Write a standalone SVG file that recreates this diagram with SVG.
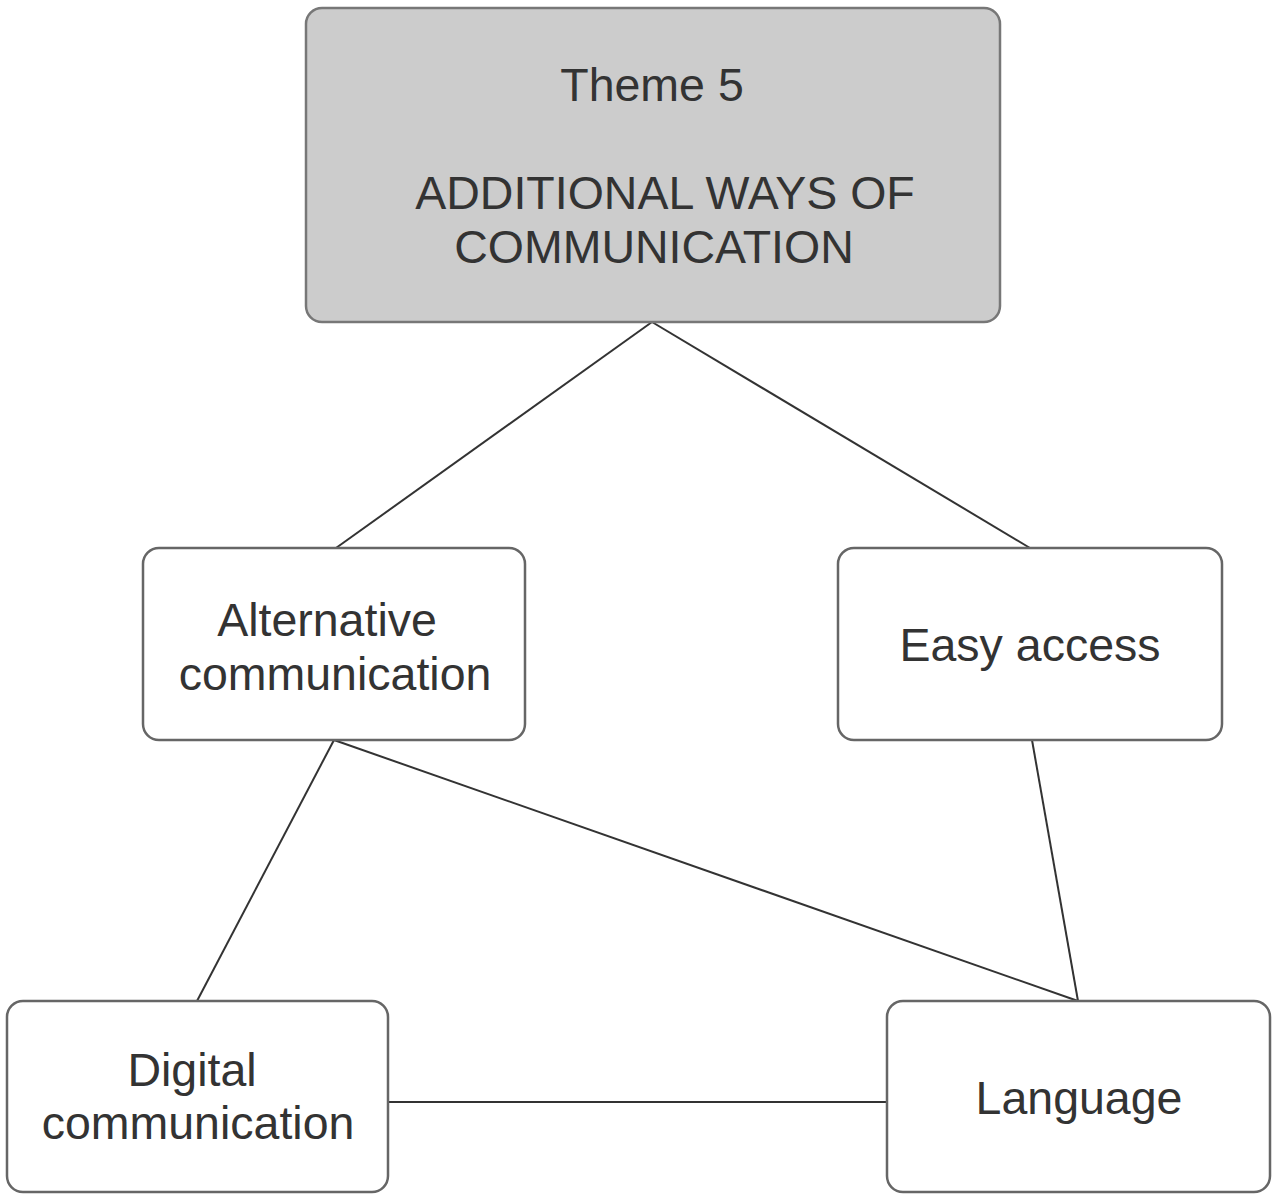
<svg xmlns="http://www.w3.org/2000/svg" width="1280" height="1199" viewBox="0 0 1280 1199">
<style>
.box{fill:#ffffff;stroke:#666666;stroke-width:2.5}
.theme{fill:#cccccc;stroke:#777777;stroke-width:2.5}
.lbl{font-family:"Liberation Sans",Arial,sans-serif;font-size:46.5px;fill:#333333;text-anchor:middle}
.conn{stroke:#333333;stroke-width:2;fill:none}
</style>
<rect width="1280" height="1199" fill="#ffffff"/>
<g id="connectors">
<line class="conn" x1="652" y1="322" x2="336" y2="548"/>
<line class="conn" x1="652" y1="322" x2="1030" y2="548"/>
<line class="conn" x1="334" y1="740" x2="197" y2="1001"/>
<line class="conn" x1="334" y1="740" x2="1078" y2="1001"/>
<line class="conn" x1="1032" y1="740" x2="1078" y2="1001"/>
<line class="conn" x1="388" y1="1102" x2="887" y2="1102"/>
</g>
<g id="theme5">
<rect class="theme" x="306" y="8" width="694" height="314" rx="16"/>
<text class="lbl" x="652" y="101">Theme 5</text>
<text class="lbl" x="665" y="209">ADDITIONAL WAYS OF</text>
<text class="lbl" x="654" y="263">COMMUNICATION</text>
</g>
<g id="alternative">
<rect class="box" x="143" y="548" width="382" height="192" rx="16"/>
<text class="lbl" x="327" y="636">Alternative</text>
<text class="lbl" x="335" y="690">communication</text>
</g>
<g id="easy">
<rect class="box" x="838" y="548" width="384" height="192" rx="16"/>
<text class="lbl" x="1030" y="661">Easy access</text>
</g>
<g id="digital">
<rect class="box" x="7" y="1001" width="381" height="191" rx="16"/>
<text class="lbl" x="192" y="1086">Digital</text>
<text class="lbl" x="198" y="1139">communication</text>
</g>
<g id="language">
<rect class="box" x="887" y="1001" width="383" height="191" rx="16"/>
<text class="lbl" x="1079" y="1114">Language</text>
</g>
</svg>
